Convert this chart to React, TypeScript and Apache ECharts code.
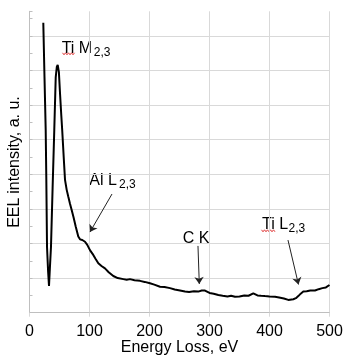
import React, { useEffect, useRef } from "react";
import * as echarts from "echarts";

const energy = [23, 25, 27, 28, 29.2, 31, 32.5, 34, 35.8, 38.5, 41.3, 43.7, 45.5, 47, 49, 51, 53, 54.5, 57, 59.2, 62, 64.7, 67.5, 70.3, 73.5, 77, 81.3, 84.2, 88, 92.5, 96.3, 101, 106.3, 110, 114.7, 120, 125.8, 132, 139.7, 147, 156.3, 162, 167.5, 175, 184.2, 192, 200.8, 208, 217.5, 225, 234.2, 242, 250.8, 259.2, 266, 274, 281.3, 287, 292.5, 300, 307, 314.7, 322, 330, 336, 342.5, 350, 358, 365, 373, 380, 386, 392.5, 400, 409.2, 416, 424, 431.3, 439.7, 444, 448, 452, 456.3, 462, 468, 475.8, 482, 488, 494, 500];
const intensity = [8.38, 6.8, 5.28, 3.9, 1.9, 1.2, 0.77, 1.3, 1.9, 3.6, 5.28, 6.8, 7.1, 7.16, 6.95, 6.3, 5.7, 5.28, 4.5, 3.84, 3.55, 3.35, 3.15, 2.97, 2.75, 2.49, 2.2, 2.12, 2.1, 2.05, 1.96, 1.8, 1.67, 1.56, 1.43, 1.35, 1.28, 1.17, 1.06, 1.0, 0.97, 0.95, 0.97, 0.94, 0.92, 0.89, 0.85, 0.81, 0.75, 0.74, 0.71, 0.67, 0.64, 0.61, 0.6, 0.62, 0.61, 0.64, 0.64, 0.57, 0.55, 0.51, 0.49, 0.47, 0.49, 0.46, 0.47, 0.5, 0.49, 0.56, 0.5, 0.49, 0.48, 0.47, 0.46, 0.44, 0.41, 0.37, 0.39, 0.42, 0.48, 0.55, 0.61, 0.62, 0.64, 0.64, 0.68, 0.71, 0.73, 0.8];

const xTicks = [0, 100, 200, 300, 400, 500];

// arrows: [start eV, start value, tip eV, tip value]
const arrowAl = [137.5, 3.43, 100.8, 2.33];
const arrowC = [280.8, 1.93, 283, 0.83];
const arrowTi = [430.8, 2.1, 448.3, 0.815];

const FONT = '"Liberation Sans", Arial, sans-serif';
const GRID = "#d9d9d9";

export default function App() {
  const ref = useRef<HTMLDivElement>(null);
  useEffect(() => {
    const chart = echarts.init(ref.current!, null, { renderer: "svg" });
    const main = (t: string, x: number, y: number) => ({
      type: "text",
      style: { text: t, x, y, fill: "#000", font: `16px ${FONT}`, textVerticalAlign: "middle", textAlign: "left" },
    });
    const sub = (t: string, x: number, y: number) => ({
      type: "text",
      style: { text: t, x, y, fill: "#000", font: `12px ${FONT}`, textVerticalAlign: "middle", textAlign: "left" },
    });
    const wavy = (x0: number, x1: number, y: number) => {
      const pts: number[][] = [];
      let up = true;
      for (let x = x0; x <= x1; x += 1.5) {
        pts.push([x, up ? y - 1 : y + 1]);
        up = !up;
      }
      return { type: "polyline", shape: { points: pts }, style: { stroke: "#e03c3c", lineWidth: 1, fill: null } };
    };
    const arrow = (a: number[]) => [
      { coord: [a[0], a[1]], symbol: "none" },
      { coord: [a[2], a[3]], symbol: "arrow" },
    ];
    chart.setOption({
      animation: false,
      textStyle: { fontFamily: FONT },
      grid: { left: 29.5, right: 14.5, top: 11.3, bottom: 45.3, containLabel: false, outerBoundsMode: "none" },
      xAxis: {
        type: "value",
        min: 0,
        max: 500,
        interval: 100,
        name: "Energy Loss, eV",
        nameLocation: "middle",
        nameGap: 26,
        nameMoveOverlap: false,
        nameTextStyle: { fontSize: 16, color: "#000", fontFamily: FONT },
        axisLine: { show: true, lineStyle: { color: "#bfbfbf", width: 1 } },
        axisTick: { show: true, length: 4, lineStyle: { color: GRID } },
        axisLabel: {
          fontSize: 16,
          color: "#000",
          margin: 10,
          fontFamily: FONT,
          formatter: (v: number) => (xTicks.includes(v) ? String(v) : ""),
        },
        splitLine: { show: true, lineStyle: { color: GRID, width: 1 } },
      },
      yAxis: {
        type: "value",
        min: 0,
        max: 8.71,
        interval: 1,
        name: "EEL intensity, a. u.",
        nameLocation: "middle",
        nameGap: 8,
        nameMoveOverlap: false,
        nameTextStyle: { fontSize: 16, color: "#000", fontFamily: FONT },
        axisLine: { show: true, lineStyle: { color: "#bfbfbf", width: 1 } },
        axisTick: { show: true, inside: true, length: 3, lineStyle: { color: "#bfbfbf" } },
        minorTick: { show: true, splitNumber: 2, length: 3, lineStyle: { color: "#bfbfbf" } },
        axisLabel: { show: false },
        splitLine: {
          show: true,
          lineStyle: {
            color: [GRID, GRID, GRID, GRID, GRID, GRID, GRID, GRID, GRID, "rgba(0,0,0,0)"],
            width: 1,
          },
        },
      },
      series: [
        {
          type: "line",
          data: energy.map((e, i) => [e, intensity[i]]),
          showSymbol: false,
          symbol: "none",
          lineStyle: { color: "#000", width: 2 },
          markLine: {
            silent: true,
            symbol: ["none", "arrow"],
            symbolSize: 7,
            label: { show: false },
            lineStyle: { color: "#222", width: 1, type: "solid" },
            data: [arrow(arrowAl), arrow(arrowC), arrow(arrowTi)],
          },
        },
      ],
      graphic: [
        main("Ti M", 61.7, 47.7),
        sub("2,3", 93.8, 51.8),
        wavy(62.5, 75, 53.8),
        main("Al L", 89.3, 179.4),
        sub("2,3", 119, 184.3),
        main("C K", 182.7, 237.1),
        main("Ti L", 262, 223.7),
        sub("2,3", 288.5, 227.5),
        wavy(261.5, 276, 230.8),
      ],
    });
    return () => chart.dispose();
  }, []);
  return <div ref={ref} style={{ position: "fixed", left: 0, top: 0, width: 344, height: 358 }} />;
}
